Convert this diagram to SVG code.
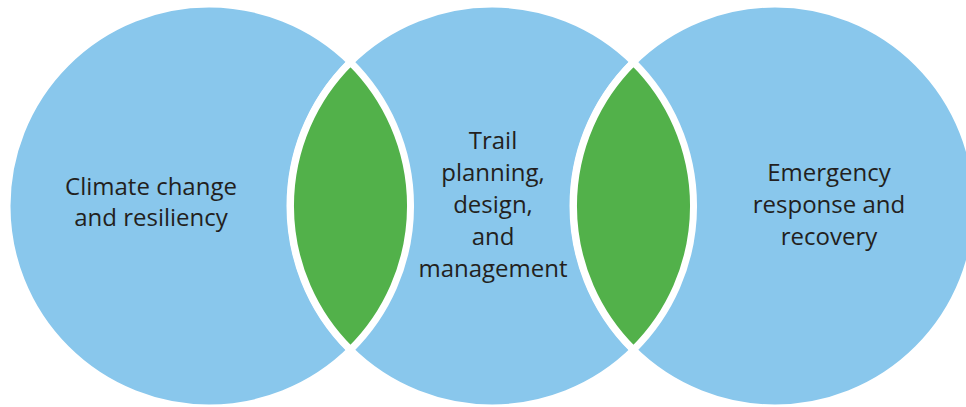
<svg xmlns="http://www.w3.org/2000/svg" width="966" height="407" viewBox="0 0 966 407">
  <style>
    .circle { fill: #89c7ec; stroke: #ffffff; stroke-width: 7; }
    .lens { fill: #52b14a; stroke: #ffffff; stroke-width: 7; stroke-linejoin: miter; }
    .label { font-family: "Open Sans", "Liberation Sans", sans-serif; font-size: 24px; fill: #231f20; text-anchor: middle; }
  </style>
  <rect width="966" height="407" fill="#ffffff"/>
  <g id="node-climate">
    <circle class="circle" cx="209" cy="206" r="202"/>
  </g>
  <g id="node-trail">
    <circle class="circle" cx="492" cy="206" r="202"/>
  </g>
  <g id="node-emergency">
    <circle class="circle" cx="775" cy="206" r="202"/>
  </g>
  <g id="connectors">
    <path id="overlap-left" class="lens" d="M 350.5 62.3 A 202 202 0 0 1 350.5 349.7 A 202 202 0 0 1 350.5 62.3 Z"/>
    <path id="overlap-right" class="lens" d="M 633.5 62.3 A 202 202 0 0 1 633.5 349.7 A 202 202 0 0 1 633.5 62.3 Z"/>
  </g>
  <g id="labels">
    <text class="label" x="151" y="195">Climate change</text>
    <text class="label" x="151" y="226">and resiliency</text>
    <text class="label" x="493" y="149">Trail</text>
    <text class="label" x="493" y="181">planning,</text>
    <text class="label" x="493" y="213">design,</text>
    <text class="label" x="493" y="245">and</text>
    <text class="label" x="493" y="277">management</text>
    <text class="label" x="829" y="181">Emergency</text>
    <text class="label" x="829" y="213">response and</text>
    <text class="label" x="829" y="245">recovery</text>
  </g>
</svg>
